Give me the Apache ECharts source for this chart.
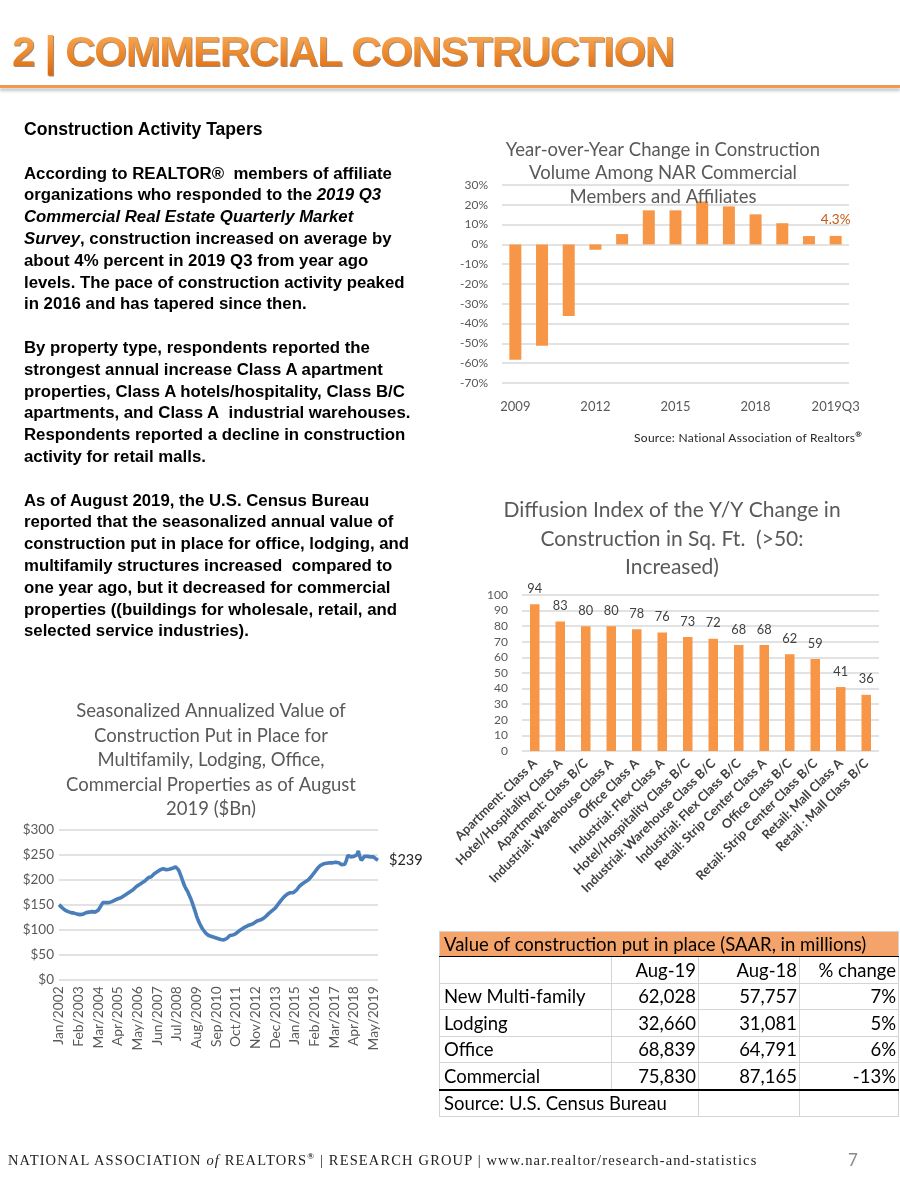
<!DOCTYPE html>
<html>
<head>
<meta charset="utf-8">
<script src="https://cdn.jsdelivr.net/npm/echarts@6.0.0/dist/echarts.min.js"></script>
<style>
  html, body { margin: 0; padding: 0; background: #fff; }
  #page { position: relative; width: 900px; height: 1200px; overflow: hidden; background: #fff; }
  #chart { position: absolute; left: 0; top: 0; width: 900px; height: 1200px; }
  .ov { position: absolute; z-index: 5; }
  #pageTitle {
    left: 12px; top: 27px; font-family: "Liberation Sans", Arial, sans-serif; font-weight: bold;
    font-size: 42px; letter-spacing: -1.3px; line-height: 50px; white-space: nowrap;
    background: linear-gradient(180deg, #F8B56A 0%, #F09035 45%, #D5650E 100%);
    -webkit-background-clip: text; background-clip: text; color: transparent;
    filter: drop-shadow(1px 1.5px 0.6px rgba(90,40,0,0.55));
  }
  #rule { left: 0; top: 85px; width: 900px; height: 3px; background: #EE9A55; box-shadow: 0 3px 3px rgba(120,120,120,0.45); }
  #body {
    left: 24px; top: 119px; width: 420px; font-family: "Liberation Sans", Arial, sans-serif;
    font-weight: bold; font-size: 16.8px; line-height: 21.8px; color: #000; white-space: nowrap;
  }
  #body .h { font-size: 17.6px; }
  #src1 { left: 634px; top: 429px; font-family: Lato, sans-serif; font-size: 12px; color: #262626; white-space: nowrap; letter-spacing: 0.3px; }
  #src1 sup { font-size: 8px; font-weight: bold; }
  #tbl { left: 439px; top: 931px; border-collapse: collapse; table-layout: fixed; font-family: Lato, sans-serif; font-size: 18.5px; color: #000; }
  #tbl td { border: 1px solid #D4D4D4; height: 25.5px; padding: 0 2px 0 4px; white-space: nowrap; overflow: visible; line-height: 24px; }
  #tbl td.r { text-align: right; }
  #tbl tr.hd td { background: #F4A46A; border-bottom: 1.5px solid #000; height: 23px; }
  #tbl tr.last td { border-bottom: 2.5px solid #000; }
  #footer { left: 8px; top: 1151px; font-family: "Liberation Serif", "Times New Roman", serif; font-size: 14.5px; letter-spacing: 1.15px; color: #222; white-space: nowrap; }
  #footer sup { font-size: 9px; font-weight: bold; }
  #pnum { left: 848px; top: 1149px; font-family: Lato, sans-serif; font-size: 17px; color: #8a8a8a; }
</style>
</head>
<body>
<div id="page">
  <div id="chart"></div>
  <div class="ov" id="pageTitle">2 | COMMERCIAL CONSTRUCTION</div>
  <div class="ov" id="rule"></div>
  <div class="ov" id="body">
    <div class="h">Construction Activity Tapers</div>
    <div>&nbsp;</div>
    <div>According to REALTOR®&nbsp; members of affiliate</div>
    <div>organizations who responded to the <i>2019 Q3</i></div>
    <div><i>Commercial Real Estate Quarterly Market</i></div>
    <div><i>Survey</i>, construction increased on average by</div>
    <div>about 4% percent in 2019 Q3 from year ago</div>
    <div>levels. The pace of construction activity peaked</div>
    <div>in 2016 and has tapered since then.</div>
    <div>&nbsp;</div>
    <div>By property type, respondents reported the</div>
    <div>strongest annual increase Class A apartment</div>
    <div>properties, Class A hotels/hospitality, Class B/C</div>
    <div>apartments, and Class A&nbsp; industrial warehouses.</div>
    <div>Respondents reported a decline in construction</div>
    <div>activity for retail malls.</div>
    <div>&nbsp;</div>
    <div>As of August 2019, the U.S. Census Bureau</div>
    <div>reported that the seasonalized annual value of</div>
    <div>construction put in place for office, lodging, and</div>
    <div>multifamily structures increased&nbsp; compared to</div>
    <div>one year ago, but it decreased for commercial</div>
    <div>properties ((buildings for wholesale, retail, and</div>
    <div>selected service industries).</div>
  </div>
  <div class="ov" id="src1">Source: National Association of Realtors<sup>®</sup></div>
  <table class="ov" id="tbl"></table>
  <div class="ov" id="footer">NATIONAL ASSOCIATION <i>of</i> REALTORS<sup>®</sup> | RESEARCH GROUP | www.nar.realtor/research-and-statistics</div>
  <div class="ov" id="pnum">7</div>
</div>
<script>
// ---------- Data ----------
const yoyCategories = ['2009','2010','2011','2012','2013','2014','2015','2016','2017','2018','2019Q1','2019Q2','2019Q3'];
const yoyValues = [-58.2, -51.2, -36.2, -2.7, 5.2, 17.2, 17.2, 21.7, 19.2, 15.2, 10.7, 4.2, 4.3];

const diffusionCategories = ['Apartment: Class A','Hotel/Hospitality Class A','Apartment: Class B/C','Industrial: Warehouse Class A','Office Class A','Industrial: Flex Class A','Hotel/Hospitality Class B/C','Industrial: Warehouse Class B/C','Industrial: Flex Class B/C','Retail: Strip Center Class A','Office Class B/C','Retail: Strip Center Class B/C','Retail: Mall Class A','Retail : Mall Class B/C'];
const diffusionValues = [94, 83, 80, 80, 78, 76, 73, 72, 68, 68, 62, 59, 41, 36];

const monthNames = ['Jan','Feb','Mar','Apr','May','Jun','Jul','Aug','Sep','Oct','Nov','Dec'];
const lineStartYear = 2002;
// Monthly values, $Bn, Jan 2002 - Aug 2019
const line2002 = [150,147,144,141,139,137,136,135,134,134,133,132];
const line2003 = [131,131,130,130,131,133,134,135,135,136,136,136];
const line2004 = [135,136,139,144,149,154,155,154,153,154,155,156];
const line2005 = [157,159,161,162,163,164,166,168,170,172,174,176];
const line2006 = [178,180,183,186,188,190,192,194,196,198,201,204];
const line2007 = [203,206,209,212,214,216,218,220,221,222,221,220];
const line2008 = [221,221,222,223,225,226,224,220,213,205,196,188];
const line2009 = [182,177,170,163,155,146,137,127,119,112,106,101];
const line2010 = [97,93,90,88,87,86,85,84,83,82,81,80];
const line2011 = [79,79,80,82,85,88,89,89,90,92,94,97];
const line2012 = [99,101,103,105,107,108,109,110,112,113,115,117];
const line2013 = [118,119,120,122,124,127,130,133,136,138,140,143];
const line2014 = [147,151,155,159,163,166,169,171,173,174,173,174];
const line2015 = [176,179,183,187,190,192,194,196,198,200,203,207];
const line2016 = [211,215,219,223,226,229,231,232,233,233,234,234];
const line2017 = [234,234,234,235,234,234,233,230,228,231,238,249];
const line2018 = [250,246,244,247,246,250,258,246,239,242,247,245];
const line2019 = [247,244,246,247,246,243,241,239];
const lineValues = [].concat(line2002,line2003,line2004,line2005,line2006,line2007,line2008,line2009,
  line2010,line2011,line2012,line2013,line2014,line2015,line2016,line2017,line2018,line2019);
const lineCategories = lineValues.map((v, i) => monthNames[i % 12] + '/' + (lineStartYear + Math.floor(i / 12)));

const tableTitle = 'Value of construction put in place (SAAR, in millions)';
const tableColumns = ['', 'Aug-19', 'Aug-18', '% change'];
const tableRowNames = ['New Multi-family', 'Lodging', 'Office', 'Commercial'];
const tableAug19 = ['62,028', '32,660', '68,839', '75,830'];
const tableAug18 = ['57,757', '31,081', '64,791', '87,165'];
const tableChange = ['7%', '5%', '6%', '-13%'];
const tableSource = 'Source: U.S. Census Bureau';

// ---------- Table ----------
(function buildTable() {
  const t = document.getElementById('tbl');
  const widths = [172, 87, 101, 99];
  let html = '<colgroup>' + widths.map(w => '<col style="width:' + w + 'px">').join('') + '</colgroup>';
  html += '<tr class="hd"><td colspan="4">' + tableTitle + '</td></tr>';
  html += '<tr>' + tableColumns.map((c, i) => '<td class="' + (i ? 'r' : '') + '">' + c + '</td>').join('') + '</tr>';
  tableRowNames.forEach((n, i) => {
    html += '<tr' + (i === tableRowNames.length - 1 ? ' class="last"' : '') + '><td>' + n + '</td><td class="r">' + tableAug19[i] +
      '</td><td class="r">' + tableAug18[i] + '</td><td class="r">' + tableChange[i] + '</td></tr>';
  });
  html += '<tr><td colspan="2">' + tableSource + '</td><td></td><td></td></tr>';
  t.innerHTML = html;
})();

// ---------- Chart ----------
const gray = '#595959';
const gridLine = { show: true, lineStyle: { color: '#D9D9D9', width: 1.5 } };
const orange = '#F79646';
const font = 'Lato, sans-serif';

const chart = echarts.init(document.getElementById('chart'), null, { renderer: 'canvas' });
chart.setOption({
  animation: false,
  textStyle: { fontFamily: font },
  title: [
    { text: 'Year-over-Year Change in Construction\nVolume Among NAR Commercial\nMembers and Affiliates',
      left: 658, top: 133, textAlign: 'center',
      textStyle: { fontFamily: font, fontSize: 18.5, fontWeight: 'normal', color: gray, lineHeight: 23.5 } },
    { text: 'Diffusion Index of the Y/Y Change in\nConstruction in Sq. Ft.  (>50:\nIncreased)',
      left: 667, top: 491, textAlign: 'center',
      textStyle: { fontFamily: font, fontSize: 21, fontWeight: 'normal', color: gray, lineHeight: 28.5 } },
    { text: 'Seasonalized Annualized Value of\nConstruction Put in Place for\nMultifamily, Lodging, Office,\nCommercial Properties as of August\n2019 ($Bn)',
      left: 206, top: 694, textAlign: 'center',
      textStyle: { fontFamily: font, fontSize: 18.5, fontWeight: 'normal', color: gray, lineHeight: 24.5 } }
  ],
  grid: [
    { left: 502, top: 185, width: 347, height: 198 },
    { left: 522, top: 595, width: 357, height: 156 },
    { left: 59, top: 830, width: 319, height: 149.3 }
  ],
  xAxis: [
    { type: 'category', gridIndex: 0, data: yoyCategories,
      axisLine: { show: false, onZero: false }, axisTick: { show: false },
      axisLabel: { interval: 2, color: gray, fontSize: 13, margin: 17, fontFamily: font } },
    { type: 'category', gridIndex: 1, data: diffusionCategories,
      axisLine: { show: false }, axisTick: { show: false },
      axisLabel: { interval: 0, rotate: 45, color: '#404040', fontSize: 12.8, fontWeight: 'bold', margin: 10, fontFamily: font } },
    { type: 'category', gridIndex: 2, data: lineCategories, boundaryGap: false,
      axisLine: { show: false }, axisTick: { show: false },
      axisLabel: { interval: 12, rotate: 90, color: gray, fontSize: 13.8, margin: 7, fontFamily: font } }
  ],
  yAxis: [
    { type: 'value', gridIndex: 0, min: -70, max: 30, interval: 10,
      axisLine: { show: false }, axisTick: { show: false }, splitLine: gridLine,
      axisLabel: { formatter: v => v + '%', color: gray, fontSize: 12, margin: 14, fontFamily: font } },
    { type: 'value', gridIndex: 1, min: 0, max: 100, interval: 10,
      axisLine: { show: false }, axisTick: { show: false }, splitLine: gridLine,
      axisLabel: { color: gray, fontSize: 12, margin: 14, fontFamily: font } },
    { type: 'value', gridIndex: 2, min: 0, max: 300, interval: 50,
      axisLine: { show: false }, axisTick: { show: false }, splitLine: gridLine,
      axisLabel: { formatter: v => '$' + v, color: gray, fontSize: 13.5, margin: 5, fontFamily: font } }
  ],
  series: [
    { type: 'bar', xAxisIndex: 0, yAxisIndex: 0, barWidth: 12,
      itemStyle: { color: orange },
      data: yoyValues.map((v, i) => i === yoyValues.length - 1
        ? { value: v, label: { show: true, position: 'top', distance: 9, formatter: p => p.value + '%', color: '#C65911', fontSize: 13.5, fontFamily: font } }
        : v) },
    { type: 'bar', xAxisIndex: 1, yAxisIndex: 1, barWidth: 9.5,
      itemStyle: { color: orange },
      label: { show: true, position: 'top', distance: 9, color: '#404040', fontSize: 12.8, fontFamily: font },
      data: diffusionValues },
    { type: 'line', xAxisIndex: 2, yAxisIndex: 2, data: lineValues, showSymbol: false, symbol: 'none',
      lineStyle: { color: '#4A7EBB', width: 3.6 },
      endLabel: { show: true, formatter: p => '$' + p.value, color: '#262626', fontSize: 14.5, distance: 11, fontFamily: font } }
  ]
});
</script>
</body>
</html>
